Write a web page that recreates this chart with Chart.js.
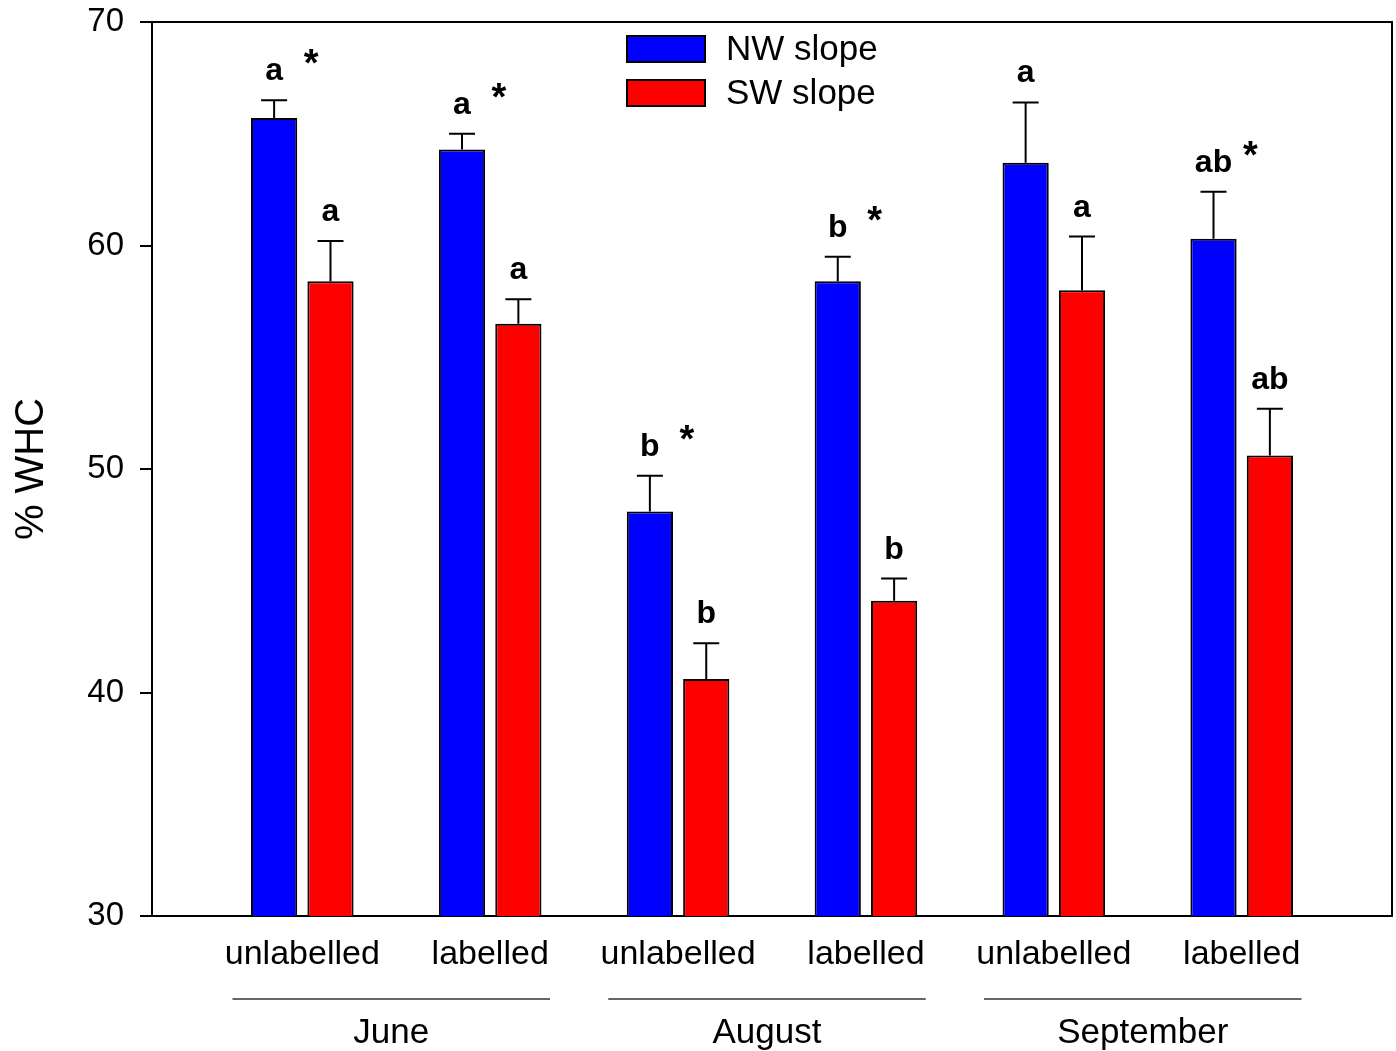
<!DOCTYPE html>
<html>
<head>
<meta charset="utf-8">
<script src="https://cdn.jsdelivr.net/npm/chart.js@4"></script>
<style>
  body { margin: 0; background: #fff; }
  canvas { display: block; }
</style>
</head>
<body>
<canvas id="whc-chart" width="1396" height="1051"></canvas>
<script>
var categories = ['unlabelled', 'labelled', 'unlabelled', 'labelled', 'unlabelled', 'labelled'];
var months = ['June', 'August', 'September'];
var seriesNames = ['NW slope', 'SW slope'];

var nwValues = [65.7, 64.3, 48.1, 58.4, 63.7, 60.3];
var nwErrors = [0.8, 0.7, 1.6, 1.1, 2.7, 2.1];
var swValues = [58.4, 56.5, 40.6, 44.1, 58.0, 50.6];
var swErrors = [1.8, 1.1, 1.6, 1.0, 2.4, 2.1];

var nwLetters = ['a', 'a', 'b', 'b', 'a', 'ab'];
var swLetters = ['a', 'a', 'b', 'b', 'a', 'ab'];
var nwStars = [true, true, true, true, false, true];

var yTicks = [30, 40, 50, 60, 70];

var FONT = 'Arial, "Liberation Sans", sans-serif';
var errors = [nwErrors, swErrors];
var letters = [nwLetters, swLetters];

function points(values) {
    return values.map(function(v, i) { return {x: i, y: v}; });
}

// error bars, letters, asterisks, legend, month brackets, frame
const extras = {
    id: 'extras',
    afterDatasetsDraw(chart) {
        const {ctx, scales} = chart;
        const y = scales.y;
        ctx.save();
        ctx.strokeStyle = '#000';
        ctx.fillStyle = '#000';
        ctx.lineWidth = 2;
        [0, 1].forEach(function(d) {
            chart.getDatasetMeta(d).data.forEach(function(bar, i) {
                const val = chart.data.datasets[d].data[i].y;
                const top = y.getPixelForValue(val + errors[d][i]);
                const base = y.getPixelForValue(val);
                ctx.beginPath();
                ctx.moveTo(bar.x, base);
                ctx.lineTo(bar.x, top);
                ctx.moveTo(bar.x - 13, top);
                ctx.lineTo(bar.x + 13, top);
                ctx.stroke();

                ctx.textAlign = 'center';
                ctx.textBaseline = 'alphabetic';
                const baseline = top - 20;
                ctx.font = 'bold 32px ' + FONT;
                ctx.fillText(letters[d][i], bar.x, baseline);
                if (d === 0 && nwStars[i]) {
                    ctx.font = 'bold 38px ' + FONT;
                    ctx.fillText('*', bar.x + 37, baseline - 4);
                }
            });
        });
        ctx.restore();
    },
    afterDraw(chart) {
        const {ctx, chartArea, scales} = chart;
        const x = scales.x;
        ctx.save();
        // frame top and right
        ctx.strokeStyle = '#000';
        ctx.lineWidth = 2;
        ctx.beginPath();
        ctx.moveTo(chartArea.left, chartArea.top);
        ctx.lineTo(chartArea.right, chartArea.top);
        ctx.lineTo(chartArea.right, chartArea.bottom);
        ctx.stroke();

        // legend
        ctx.font = '35px ' + FONT;
        ctx.textAlign = 'left';
        ctx.textBaseline = 'middle';
        chart.data.datasets.forEach(function(ds, d) {
            const ly = 49 + d * 44;
            ctx.fillStyle = ds.backgroundColor;
            ctx.fillRect(627, ly - 13, 78, 26);
            ctx.strokeStyle = '#000';
            ctx.lineWidth = 2;
            ctx.strokeRect(627, ly - 13, 78, 26);
            ctx.fillStyle = '#000';
            ctx.fillText(ds.label, 726, ly + 1);
        });

        // month brackets
        ctx.strokeStyle = '#333';
        ctx.lineWidth = 1.5;
        ctx.font = '35px ' + FONT;
        ctx.textAlign = 'center';
        ctx.textBaseline = 'middle';
        months.forEach(function(m, k) {
            const mid = 2 * k + 0.5;
            const x0 = x.getPixelForValue(mid - 0.845) - 5;
            const x1 = x.getPixelForValue(mid + 0.845) - 5;
            ctx.beginPath();
            ctx.moveTo(x0, 999);
            ctx.lineTo(x1, 999);
            ctx.stroke();
            ctx.fillStyle = '#000';
            ctx.fillText(m, x.getPixelForValue(mid) - 5, 1033);
        });
        ctx.restore();
    }
};

new Chart(document.getElementById('whc-chart').getContext('2d'), {
    type: 'bar',
    data: {
        datasets: [{
            label: seriesNames[0],
            data: points(nwValues),
            backgroundColor: '#0000FF',
            borderColor: '#000',
            borderWidth: 2
        }, {
            label: seriesNames[1],
            data: points(swValues),
            backgroundColor: '#FF0000',
            borderColor: '#000',
            borderWidth: 2
        }]
    },
    plugins: [extras],
    options: {
        responsive: false,
        animation: false,
        categoryPercentage: 0.6,
        barPercentage: 0.82,
        layout: {padding: {top: 22, right: 4, left: 0, bottom: 0}},
        plugins: {
            legend: {display: false},
            tooltip: {enabled: false}
        },
        scales: {
            x: {
                type: 'linear',
                min: -0.8,
                max: 5.8,
                offset: false,
                afterBuildTicks: function(s) {
                    s.ticks = categories.map(function(c, i) { return {value: i}; });
                },
                afterFit: function(s) {
                    s.height = 135;
                    s.paddingLeft = 0;
                    s.paddingRight = 0;
                },
                grid: {display: false, drawTicks: false},
                border: {display: true, color: '#000', width: 2},
                ticks: {
                    autoSkip: false,
                    maxRotation: 0,
                    padding: 18,
                    color: '#000',
                    font: {family: FONT, size: 34},
                    callback: function(v) { return categories[v]; }
                }
            },
            y: {
                min: 30,
                max: 70,
                afterBuildTicks: function(s) {
                    s.ticks = yTicks.map(function(v) { return {value: v}; });
                },
                afterFit: function(s) {
                    s.width = 152;
                    s.paddingTop = 0;
                    s.paddingBottom = 0;
                },
                grid: {drawOnChartArea: false, drawTicks: true, tickLength: 12, color: '#000', lineWidth: 2},
                border: {display: true, color: '#000', width: 2},
                ticks: {
                    padding: 16,
                    color: '#000',
                    font: {family: FONT, size: 33}
                },
                title: {
                    display: true,
                    text: '% WHC',
                    color: '#000',
                    font: {family: FONT, size: 40},
                    padding: {top: 8, bottom: 0}
                }
            }
        }
    }
});
</script>
</body>
</html>
